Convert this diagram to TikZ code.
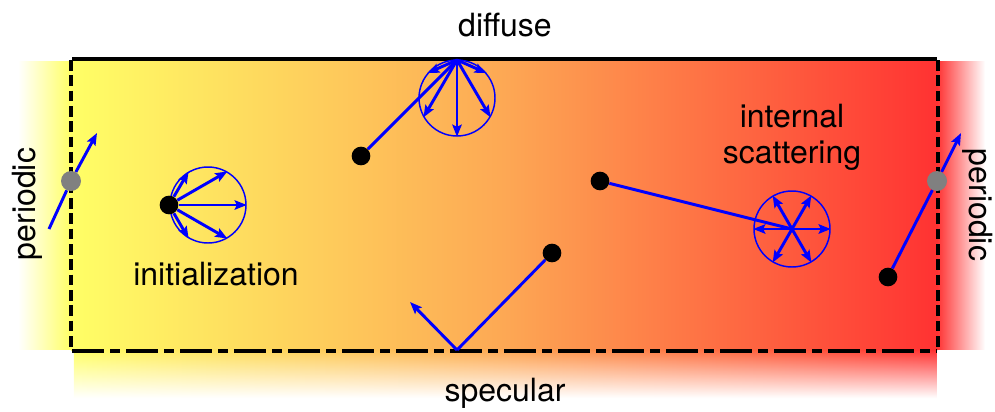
\documentclass[tikz,border=0pt]{standalone}
\usepackage{fontspec}
\setmainfont{TeX Gyre Heros}
\usetikzlibrary{arrows.meta,fadings}
\definecolor{yc}{RGB}{255,255,102}
\definecolor{oc}{RGB}{253,168,84}
\definecolor{rc}{RGB}{255,50,50}
\definecolor{gc}{RGB}{128,128,128}
\tikzfading[name=fadedown, top color=transparent!0, bottom color=transparent!100]
\tikzset{
  lbl/.style={font=\fontsize{24}{27}\selectfont, inner sep=0pt, align=center},
  arr/.style={blue, line width=2.2pt, -{Stealth[length=9pt,width=7pt,inset=1.5pt]}},
  traj/.style={blue, line width=2.2pt},
  ring/.style={circle, draw=blue, line width=1.1pt, minimum size=57pt, inner sep=0pt},
  dot/.style={circle, fill=black, minimum size=14pt, inner sep=0pt},
  gdot/.style={circle, fill=gc, minimum size=15pt, inner sep=0pt},
}
\begin{document}
\begin{tikzpicture}[x=0.75pt,y=-0.75pt]
\useasboundingbox (0,0) rectangle (995,411);
% shaded regions
\shade[left color=white, right color=yc] (18,61) rectangle (71,349);
\shade[left color=rc, right color=white] (937,61) rectangle (985,349);
\shade[left color=yc, right color=rc, middle color=oc, path fading=fadedown] (74,350) rectangle (937,398);
\shade[left color=yc, right color=rc, middle color=oc] (71,60) rectangle (937,350);
% frame
\draw[line width=3pt] (72,59) -- (937,59);
\draw[line width=3pt, dash pattern=on 8pt off 3.5pt] (71,60) -- (71,351);
\draw[line width=3pt, dash pattern=on 8pt off 3.5pt] (938,60) -- (938,351);
\draw[line width=3pt, dash pattern=on 24pt off 4.5pt on 7.5pt off 4.5pt] (72,351) -- (937,351);
% labels
\node[lbl, anchor=base] (tdiff) at (505,36) {diffuse};
\node[lbl, anchor=base] (tspec) at (505,401) {specular};
\node[lbl, anchor=base, rotate=90] (tperl) at (35,204) {periodic};
\node[lbl, anchor=base, rotate=-90] (tperr) at (969,205) {periodic};
\node[lbl, anchor=base] (tinit) at (216,285) {initialization};
\node[lbl, anchor=center] (tint) at (792,137) {internal\\scattering};
% rings
\node[ring] (c1) at (208,205) {};
\node[ring] (c2) at (457,98) {};
\node[ring] (c3) at (792,229) {};
% coordinates
\coordinate (dtop) at (457,60);
\coordinate (sp) at (457,350);
\coordinate (sptip) at (410,302);
\coordinate (pl0) at (49,229);
\coordinate (pltip) at (97,133);
\coordinate (prtip) at (961,133);
% particles
\node[dot] (d1) at (169,205) {};
\node[dot] (d2) at (361,156) {};
\node[dot] (d3) at (600,181) {};
\node[dot] (d4) at (552,253) {};
\node[dot] (d5) at (888,277) {};
\node[gdot] (gl) at (71,181) {};
\node[gdot] (gr) at (937,181) {};
% initialization
\foreach \a in {0,60,120,-60,-120} \draw[arr] (d1) -- (c1.\a);
% diffuse
\draw[traj] (d2) -- (dtop);
\foreach \a in {-90,-30,-150,40,140} \draw[arr] (dtop) -- (c2.\a);
% internal scattering
\draw[traj] (d3) -- (c3.center);
\foreach \a in {0,60,120,180,240,300} \draw[arr] (c3.center) -- (c3.\a);
% specular
\draw[traj] (d4) -- (sp);
\draw[arr] (sp) -- (sptip);
% periodic
\draw[traj] (pl0) -- (gl);
\draw[arr] (gl) -- (pltip);
\draw[traj] (d5) -- (gr);
\draw[arr] (gr) -- (prtip);
\end{tikzpicture}
\end{document}
